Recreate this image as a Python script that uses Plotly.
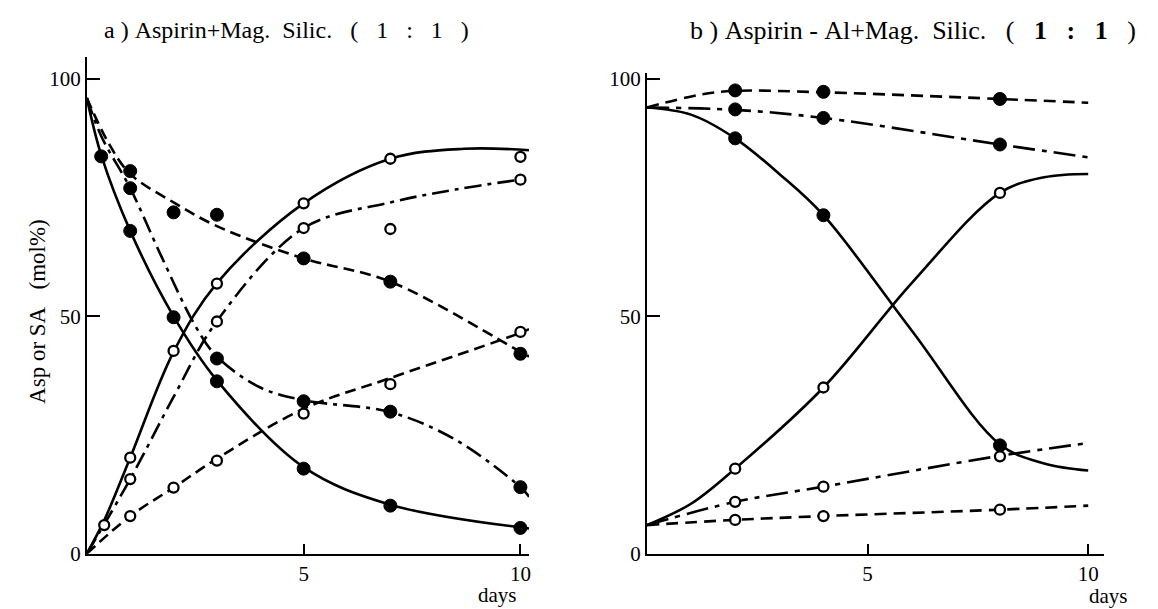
import plotly.graph_objects as go

W, H = 1158, 609

# ---------------- data: panel a (Aspirin + Mag. Silic.) ----------------
a_asp_solid_x = [0.33, 1, 2, 3, 5, 7, 10]
a_asp_solid_y = [83.7, 68.0, 49.8, 36.3, 17.9, 10.1, 5.4]
a_asp_dashdot_x = [1, 3, 5, 7, 10]
a_asp_dashdot_y = [77.0, 41.1, 32.1, 29.9, 14.0]
a_asp_dashed_x = [1, 2, 3, 5, 7, 10]
a_asp_dashed_y = [80.6, 71.9, 71.4, 62.2, 57.3, 42.1]
a_sa_solid_x = [0.4, 1, 2, 3, 5, 7, 10]
a_sa_solid_y = [6.0, 20.2, 42.7, 56.9, 73.8, 83.2, 83.6]
a_sa_dashdot_x = [1, 3, 5, 7, 10]
a_sa_dashdot_y = [15.7, 48.9, 68.6, 68.4, 78.8]
a_sa_dashed_x = [1, 2, 3, 5, 7, 10]
a_sa_dashed_y = [7.9, 13.9, 19.6, 29.5, 35.7, 46.7]

# fitted curves drawn in panel a
a_c_asp_solid_x = [0, 0.33, 1, 2, 3, 5, 7, 10.2]
a_c_asp_solid_y = [96, 84, 68, 50, 36.5, 18.2, 10.3, 5.3]
a_c_asp_dashdot_x = [0, 0.33, 1, 1.7, 2.5, 3, 4, 5, 7, 8.5, 10, 10.2]
a_c_asp_dashdot_y = [96, 88, 77, 63, 48, 41.5, 35, 32.3, 29.8, 24, 14, 12]
a_c_asp_dashed_x = [0, 0.5, 1, 2, 3, 5, 7, 10, 10.2]
a_c_asp_dashed_y = [96, 86.5, 80, 74, 69, 62.2, 57.3, 42.5, 41.5]
a_c_sa_solid_x = [0, 0.4, 1, 2, 3, 5, 7, 8.7, 10.2]
a_c_sa_solid_y = [0, 7, 20.2, 42.5, 57, 73.8, 83.2, 85.3, 85]
a_c_sa_dashdot_x = [0, 1, 2, 3, 5, 7, 8.5, 10, 10.2]
a_c_sa_dashdot_y = [0, 15.7, 33, 49, 68.6, 74, 76.7, 78.8, 79]
a_c_sa_dashed_x = [0, 1, 2, 3, 5, 7, 10, 10.2]
a_c_sa_dashed_y = [0, 7.9, 13.9, 20, 30.5, 37, 46.5, 47.3]

# ---------------- data: panel b (Aspirin-Al + Mag. Silic.) ----------------
b_days = [2, 4, 8]
b_asp_dashed = [97.6, 97.3, 95.8]
b_asp_dashdot = [93.6, 91.8, 86.2]
b_asp_solid = [87.5, 71.3, 22.8]
b_sa_solid = [17.9, 35.0, 76.0]
b_sa_dashdot = [10.9, 14.1, 20.5]
b_sa_dashed = [7.1, 7.9, 9.25]

b_c_asp_dashed_x = [0, 1.2, 2, 4, 8, 10]
b_c_asp_dashed_y = [94, 96.7, 97.5, 97.2, 95.8, 95]
b_c_asp_dashdot_x = [0, 2, 4, 8, 10]
b_c_asp_dashdot_y = [94, 93.5, 91.8, 86.2, 83.5]
b_c_asp_solid_x = [0, 1, 2, 3, 4, 6, 8, 9, 10]
b_c_asp_solid_y = [94, 92.5, 87.5, 80, 71.3, 47, 23, 19, 17.5]
b_c_sa_solid_x = [0, 1, 2, 4, 6, 8, 9, 10]
b_c_sa_solid_y = [6, 10.5, 17.9, 35, 57, 76, 79.3, 80]
b_c_sa_dashdot_x = [0, 2, 4, 8, 10]
b_c_sa_dashdot_y = [6, 10.9, 14.1, 20.6, 23.3]
b_c_sa_dashed_x = [0, 2, 4, 8, 10]
b_c_sa_dashed_y = [6, 7.1, 7.9, 9.25, 10.1]

S = "\u00a0"
title_a = "a" + S + ")" + S + "Aspirin+Mag." + S * 2 + "Silic." + S * 3 + "(" + S * 3 + "1" + S * 3 + ":" + S * 3 + "1" + S * 3 + ")"
title_b = ("b" + S + ")" + S + "Aspirin" + S + "-" + S + "Al+Mag." + S * 2 + "Silic." + S * 3
           + "(" + S * 3 + "<b>1</b>" + S * 3 + "<b>:</b>" + S * 3 + "<b>1</b>" + S * 3 + ")")
y_title = "Asp or SA" + S * 3 + "(mol%)"
x_title = "days"

FONT = "Liberation Serif, Times New Roman, serif"
SOLID = "solid"
DASH_A = "11px,6px"
DASHDOT_A = "17px,6px,4px,6px"
DASH_B = "12px,7px"
DASHDOT_B = "22px,7px,5px,7px"

fig = go.Figure()


def curve(x, y, dash, xa, ya):
    fig.add_trace(go.Scatter(x=x, y=y, mode="lines", xaxis=xa, yaxis=ya,
                             line=dict(color="black", width=2.6, dash=dash,
                                       shape="spline", smoothing=1.0),
                             hoverinfo="skip", showlegend=False))


def pts(x, y, filled, xa, ya):
    if filled:
        m = dict(size=13, color="black", line=dict(color="black", width=1))
    else:
        m = dict(size=10, color="white", line=dict(color="black", width=2.3))
    fig.add_trace(go.Scatter(x=x, y=y, mode="markers", xaxis=xa, yaxis=ya,
                             marker=m, showlegend=False, cliponaxis=False))


# panel a
curve(a_c_asp_solid_x, a_c_asp_solid_y, SOLID, "x", "y")
curve(a_c_asp_dashdot_x, a_c_asp_dashdot_y, DASHDOT_A, "x", "y")
curve(a_c_asp_dashed_x, a_c_asp_dashed_y, DASH_A, "x", "y")
curve(a_c_sa_solid_x, a_c_sa_solid_y, SOLID, "x", "y")
curve(a_c_sa_dashdot_x, a_c_sa_dashdot_y, DASHDOT_A, "x", "y")
curve(a_c_sa_dashed_x, a_c_sa_dashed_y, DASH_A, "x", "y")
pts(a_asp_solid_x, a_asp_solid_y, True, "x", "y")
pts(a_asp_dashdot_x, a_asp_dashdot_y, True, "x", "y")
pts(a_asp_dashed_x, a_asp_dashed_y, True, "x", "y")
pts(a_sa_solid_x, a_sa_solid_y, False, "x", "y")
pts(a_sa_dashdot_x, a_sa_dashdot_y, False, "x", "y")
pts(a_sa_dashed_x, a_sa_dashed_y, False, "x", "y")

# panel b
curve(b_c_asp_dashed_x, b_c_asp_dashed_y, DASH_B, "x2", "y2")
curve(b_c_asp_dashdot_x, b_c_asp_dashdot_y, DASHDOT_B, "x2", "y2")
curve(b_c_asp_solid_x, b_c_asp_solid_y, SOLID, "x2", "y2")
curve(b_c_sa_solid_x, b_c_sa_solid_y, SOLID, "x2", "y2")
curve(b_c_sa_dashdot_x, b_c_sa_dashdot_y, DASHDOT_B, "x2", "y2")
curve(b_c_sa_dashed_x, b_c_sa_dashed_y, DASH_B, "x2", "y2")
pts(b_days, b_asp_dashed, True, "x2", "y2")
pts(b_days, b_asp_dashdot, True, "x2", "y2")
pts(b_days, b_asp_solid, True, "x2", "y2")
pts(b_days, b_sa_solid, False, "x2", "y2")
pts(b_days, b_sa_dashdot, False, "x2", "y2")
pts(b_days, b_sa_dashed, False, "x2", "y2")

# geometry (pixels -> paper)
y0_px, y100_px = 556, 67
def py(p):
    return 1 - p / H
unit = (py(y100_px) - py(y0_px)) / 100.0
ybot = py(y0_px)

axis_common = dict(showline=True, linecolor="black", linewidth=2, ticks="inside",
                   tickcolor="black", tickwidth=2, showgrid=False, zeroline=False,
                   tickfont=dict(family=FONT, size=21, color="black"), mirror=False)

fig.update_layout(
    width=W, height=H, margin=dict(l=0, r=0, t=0, b=0),
    paper_bgcolor="white", plot_bgcolor="white", showlegend=False,
    xaxis=dict(domain=[79 / W, 522 / W], range=[0, 10.2], tickvals=[5, 10],
               ticklen=10, anchor="y", **axis_common),
    yaxis=dict(domain=[ybot, ybot + 104.7 * unit], range=[0, 104.7],
               tickvals=[0, 50, 100], ticklen=13, anchor="x", **axis_common),
    xaxis2=dict(domain=[640 / W, 1098 / W], range=[0, 10.36], tickvals=[5, 10],
                ticklen=10, anchor="y2", **axis_common),
    yaxis2=dict(domain=[ybot, ybot + 101.2 * unit], range=[0, 101.2],
                tickvals=[0, 50, 100], ticklen=13, anchor="x2", **axis_common),
)

fig.add_annotation(text=title_a, x=279 / W, y=py(17), xref="paper", yref="paper",
                   showarrow=False, font=dict(family=FONT, size=24, color="black"),
                   xanchor="center", yanchor="middle")
fig.add_annotation(text=title_b, x=907 / W, y=py(17), xref="paper", yref="paper",
                   showarrow=False, font=dict(family=FONT, size=26, color="black"),
                   xanchor="center", yanchor="middle")
fig.add_annotation(text=y_title, x=30 / W, y=py(306), xref="paper", yref="paper",
                   showarrow=False, textangle=-90,
                   font=dict(family=FONT, size=23, color="black"),
                   xanchor="center", yanchor="middle")
fig.add_annotation(text=x_title, x=490 / W, y=py(599), xref="paper", yref="paper",
                   showarrow=False, font=dict(family=FONT, size=21, color="black"),
                   xanchor="center", yanchor="middle")
fig.add_annotation(text=x_title, x=1102 / W, y=py(600), xref="paper", yref="paper",
                   showarrow=False, font=dict(family=FONT, size=21, color="black"),
                   xanchor="center", yanchor="middle")

fig.write_html("out.html")
